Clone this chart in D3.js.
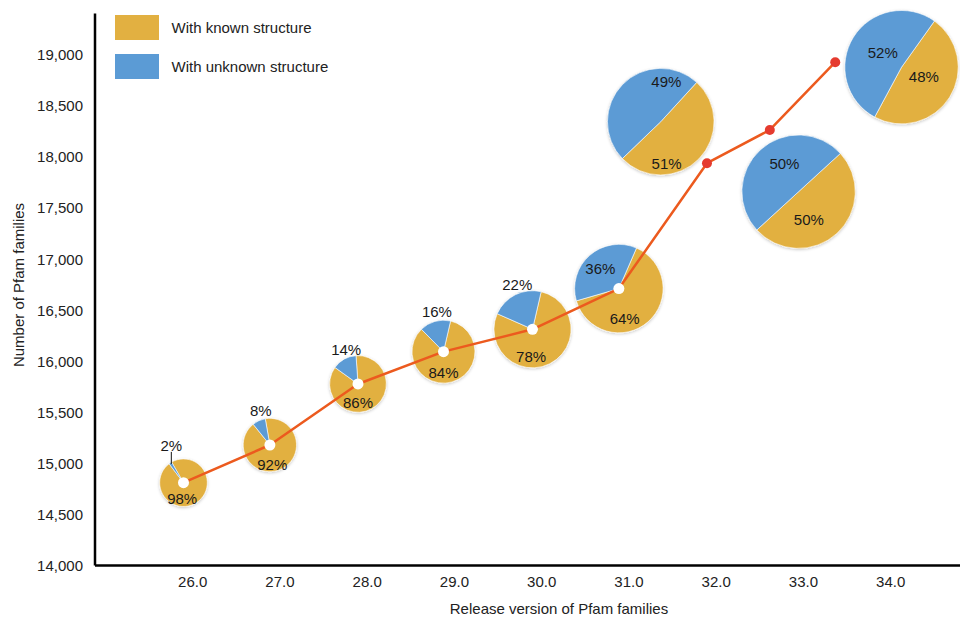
<!DOCTYPE html>
<html>
<head>
<meta charset="utf-8">
<script src="https://cdn.jsdelivr.net/npm/d3@7"></script>
<style>
  html, body { margin: 0; padding: 0; background: #fff; }
  svg { display: block; font-family: "Liberation Sans", Arial, Helvetica, sans-serif; }
</style>
</head>
<body>
<svg id="chart" width="960" height="618"></svg>
<script>
// ---------------- data ----------------
const versionTicks = [26, 27, 28, 29, 30, 31, 32, 33, 34];
const releaseX     = [25.9, 26.89, 27.9, 28.88, 29.9, 30.89, 31.9, 32.62, 33.37];
const families     = [14805, 15174, 15771, 16087, 16306, 16704, 17931, 18256, 18919];
const knownPct     = [98, 92, 86, 84, 78, 64, 51, 50, 48];
const unknownPct   = [2, 8, 14, 16, 22, 36, 49, 50, 52];
// pie placement in data units (last three pies are displaced from their points)
const pieX         = [25.9, 26.89, 27.9, 28.88, 29.9, 30.89, 31.37, 32.95, 34.13];
const pieY         = [14805, 15174, 15771, 16087, 16306, 16704, 18337, 17652, 18870];
const pieWeight    = [0.42, 0.47, 0.50, 0.555, 0.68, 0.78, 0.94, 1.0, 1.0];
const pieRotation  = [-30, -10, -4, 13, 13, 23.5, 42.5, 47.5, 35.5];
const yTicks       = [14000, 14500, 15000, 15500, 16000, 16500, 17000, 17500, 18000, 18500, 19000];
const legendLabels = ["With known structure", "With unknown structure"];

// ---------------- layout / style ----------------
const W = 960, H = 618;
const plot = { left: 94.5, right: 960, top: 13, bottom: 565 };
const colors = { known: "#e2b041", unknown: "#5b9bd5", line: "#ec5a1e", redDot: "#e53b2f" };
const fontSize = 15;
// label placement: [angle(deg, clockwise from 12 o'clock), distance as fraction of radius]
const knownLabelPlace   = [[185,.65],[173,.73],[180,.66],[180,.67],[183,.70],[169,.69],[172,.79],[160,.53],[114,.43]];
const unknownLabelPlace = [null,null,null,null,null,[317.5,.62],[8,.76],[333,.55],[308,.42]];

const svg = d3.select("#chart");

const x = d3.scaleLinear().domain([24.88, 34.8]).range([plot.left, plot.right]);
const y = d3.scaleLinear().domain([14000, 19400]).range([plot.bottom, plot.top]);
const r = d3.scaleLinear().domain([0, 1]).range([0, 56.7]);

// defs: soft shadow for pies
const defs = svg.append("defs");
const f = defs.append("filter").attr("id", "shadow").attr("x", "-20%").attr("y", "-20%").attr("width", "140%").attr("height", "140%");
f.append("feDropShadow").attr("dx", 0).attr("dy", 1).attr("stdDeviation", 1.5)
  .attr("flood-color", "#000").attr("flood-opacity", 0.22);

// ---------------- axes ----------------
const yAxis = d3.axisLeft(y).tickValues(yTicks).tickSize(0).tickSizeOuter(0).tickPadding(11.5)
  .tickFormat(d3.format(","));
const gy = svg.append("g").attr("transform", `translate(${plot.left},0)`).call(yAxis);
gy.select(".domain").attr("stroke", "#000").attr("stroke-width", 2.5);
gy.selectAll(".tick text").attr("font-size", fontSize).attr("fill", "#222")
  .attr("font-family", "Liberation Sans, Arial, sans-serif").attr("dy", "0.38em");

const xAxis = d3.axisBottom(x).tickValues(versionTicks).tickSize(0).tickSizeOuter(0).tickPadding(11.5)
  .tickFormat(d3.format(".1f"));
const gx = svg.append("g").attr("transform", `translate(0,${plot.bottom})`).call(xAxis);
gx.select(".domain").attr("stroke", "#000").attr("stroke-width", 2.5);
gx.selectAll(".tick text").attr("font-size", fontSize).attr("fill", "#222")
  .attr("font-family", "Liberation Sans, Arial, sans-serif");

// axis titles
svg.append("text").attr("x", 559).attr("y", 614).attr("text-anchor", "middle")
  .attr("font-size", fontSize).attr("fill", "#222").text("Release version of Pfam families");
svg.append("text").attr("transform", "translate(24,285) rotate(-90)").attr("text-anchor", "middle")
  .attr("font-size", fontSize).attr("fill", "#222").text("Number of Pfam families");

// ---------------- pies ----------------
const rad = d => d * Math.PI / 180;
const arc = d3.arc().innerRadius(0);
const pieData = knownPct.map((k, i) => ({
  i, known: k, unknown: unknownPct[i],
  cx: x(pieX[i]), cy: y(pieY[i]), radius: r(pieWeight[i]), rot: pieRotation[i]
}));

const pies = svg.append("g").selectAll("g.pie").data(pieData).join("g")
  .attr("class", "pie")
  .attr("transform", d => `translate(${d.cx},${d.cy})`)
  .attr("filter", "url(#shadow)");

pies.each(function(d) {
  const g = d3.select(this);
  const slices = d3.pie().sort(null).value(v => v.v)
    .startAngle(rad(d.rot)).endAngle(rad(d.rot) + 2 * Math.PI)([
      { v: d.known, c: colors.known }, { v: d.unknown, c: colors.unknown }
    ]);
  g.selectAll("path").data(slices).join("path")
    .attr("d", s => arc.outerRadius(d.radius)(s))
    .attr("fill", s => s.data.c)
    .attr("stroke", "#fff").attr("stroke-width", 0.6);
  d.slices = slices;
});

// ---------------- line + dots ----------------
const pts = releaseX.map((v, i) => [x(v), y(families[i])]);
svg.append("path").attr("d", d3.line()(pts)).attr("fill", "none")
  .attr("stroke", colors.line).attr("stroke-width", 2.5).attr("stroke-linejoin", "round");

svg.append("g").selectAll("circle").data(pts).join("circle")
  .attr("cx", d => d[0]).attr("cy", d => d[1])
  .attr("r", (d, i) => i < 6 ? 5.5 : 5)
  .attr("fill", (d, i) => i < 6 ? "#fff" : colors.redDot);

// ---------------- pie labels ----------------
const lbl = svg.append("g").attr("font-size", fontSize).attr("fill", "#1a1a1a").attr("text-anchor", "middle");
const polar = (d, ang, dist) => [d.cx + dist * Math.sin(rad(ang)), d.cy - dist * Math.cos(rad(ang))];

pieData.forEach(d => {
  // known share
  const kp = knownLabelPlace[d.i];
  const [kx, ky] = polar(d, kp[0], kp[1] * d.radius);
  lbl.append("text").attr("x", kx).attr("y", ky).attr("dy", "0.36em").text(d.known + "%");

  // unknown share
  const up = unknownLabelPlace[d.i];
  if (up) {
    const [ux, uy] = polar(d, up[0], up[1] * d.radius);
    lbl.append("text").attr("x", ux).attr("y", uy).attr("dy", "0.36em").text(d.unknown + "%");
  } else {
    const s = d.slices[1];
    const mid = (s.startAngle + s.endAngle) / 2 * 180 / Math.PI;
    const [rx, ry] = polar(d, mid, d.radius);
    if (d.unknown < 5) {
      svg.append("line").attr("x1", rx + 1).attr("y1", ry + 1).attr("x2", rx + 1).attr("y2", ry - 11)
        .attr("stroke", "#111").attr("stroke-width", 1);
      lbl.append("text").attr("x", rx + 1).attr("y", ry - 17).attr("dy", "0.36em").text(d.unknown + "%");
    } else {
      lbl.append("text").attr("x", rx + 2).attr("y", ry - 10).attr("dy", "0.36em").text(d.unknown + "%");
    }
  }
});

// ---------------- legend ----------------
const legend = svg.append("g");
const legColors = [colors.known, colors.unknown];
legendLabels.forEach((t, i) => {
  const gy0 = 15 + i * 39;
  legend.append("rect").attr("x", 115).attr("y", gy0).attr("width", 44).attr("height", 25).attr("fill", legColors[i]);
  legend.append("text").attr("x", 171.5).attr("y", gy0 + 13).attr("dy", "0.36em")
    .attr("font-size", fontSize).attr("fill", "#222").text(t);
});
</script>
</body>
</html>
